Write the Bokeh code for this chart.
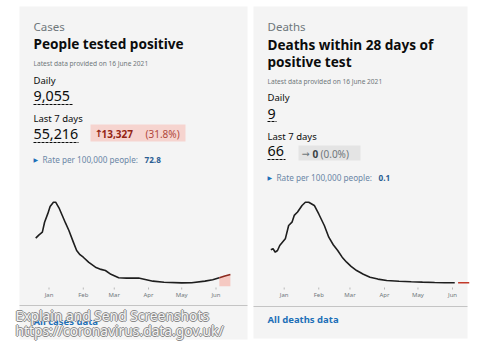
import pandas as pd
from bokeh.plotting import figure
from bokeh.models import Range1d
from bokeh.core.properties import value
from bokeh.embed import file_html
from bokeh.resources import INLINE

# ---------------- data ----------------
case_dates = ["2020-12-20", "2020-12-23", "2020-12-26", "2020-12-28", "2020-12-31",
              "2021-01-02", "2021-01-05", "2021-01-07", "2021-01-10", "2021-01-13",
              "2021-01-16", "2021-01-19", "2021-01-23", "2021-01-26", "2021-01-29",
              "2021-02-01", "2021-02-06", "2021-02-12", "2021-02-17", "2021-02-21",
              "2021-02-26", "2021-03-05", "2021-03-12", "2021-03-23", "2021-03-28",
              "2021-04-05", "2021-04-15", "2021-05-01", "2021-05-10", "2021-05-22",
              "2021-05-29", "2021-06-04", "2021-06-09", "2021-06-14"]
case_values = [34300, 36700, 38600, 45700, 52000,
               57000, 60000, 60000, 56000, 50500,
               45000, 39800, 31500, 25500, 22500,
               20700, 17000, 13600, 12000, 11200,
               8500, 6000, 5800, 5800, 5000,
               3600, 2800, 2400, 2500, 3600,
               4600, 6000, 7300, 8400]
case_recent_from = "2021-06-04"

death_dates = ["2020-12-20", "2020-12-22", "2020-12-24", "2020-12-26", "2020-12-28",
               "2021-01-02", "2021-01-05", "2021-01-08", "2021-01-10", "2021-01-13",
               "2021-01-17", "2021-01-20", "2021-01-23", "2021-01-28", "2021-02-01",
               "2021-02-06", "2021-02-10", "2021-02-14", "2021-02-18", "2021-02-22",
               "2021-02-26", "2021-03-02", "2021-03-07", "2021-03-13", "2021-03-19",
               "2021-03-26", "2021-04-03", "2021-04-14", "2021-04-25", "2021-05-05",
               "2021-05-16", "2021-05-25", "2021-06-03", "2021-06-10", "2021-06-16"]
death_values = [523, 538, 486, 512, 588,
                690, 894, 945, 1048, 1100,
                1200, 1250, 1250, 1200, 1070,
                894, 715, 600, 512, 410,
                333, 270, 206, 150, 104,
                75, 53, 42, 34, 28,
                23, 20, 18, 18, 18]
death_recent_from = "2021-06-06"

month_labels = ["Jan", "Feb", "Mar", "Apr", "May", "Jun"]
month_starts = ["2021-01-01", "2021-02-01", "2021-03-01", "2021-04-01", "2021-05-01", "2021-06-01"]

ORIGIN = pd.Timestamp("2021-01-01")


def days(ds):
    return [(pd.Timestamp(d) - ORIGIN).days for d in ds]


# ---------------- figure (pixel canvas + chart scales) ----------------
p = figure(width=481, height=356, x_range=Range1d(0, 481), y_range=Range1d(356, 0),
           output_backend="svg", toolbar_location=None, min_border=0,
           x_axis_location=None, y_axis_location=None, outline_line_color=None,
           background_fill_color="white", border_fill_color="white")
p.grid.visible = False
p.extra_x_ranges = {"cx": Range1d(-43.85, 391.05), "dx": Range1d(-254.5, 177.0)}
p.extra_y_ranges = {"cy": Range1d(-50214, 204071), "dy": Range1d(-1107.9, 4332.2)}

FONT = "Noto Sans"
SYM = "DejaVu Sans"


def txt(x, y, s, size, color, bold=False, font=FONT, align="left", xr="default", xo=0, yo=0):
    p.text(x=[x], y=[y], text=[s], text_font=value(font), text_font_size=value(f"{size}px"),
           text_font_style="bold" if bold else "normal", text_color=color,
           text_align=align, text_baseline="middle", x_range_name=xr,
           x_offset=xo, y_offset=yo)


# cards
p.quad(left=[19, 253], right=[247, 467], top=[6, 6], bottom=[339, 338],
       fill_color="#f4f4f4", line_color=None)
p.segment(x0=[19, 253], x1=[247, 467], y0=[305, 306], y1=[305, 306],
          line_color="#c4c4c4", line_width=1)

# ---------------- card 1: cases ----------------
txt(33, 26, "Cases", 11.5, "#6f777b")
txt(33, 43, "People tested positive", 13.6, "#0b0c0c", bold=True)
txt(33, 63, "Latest data provided on 16 June 2021", 6.6, "#6f777b")
txt(33, 80, "Daily", 9.5, "#0b0c0c")
txt(33, 95, "9,055", 14.3, "#0b0c0c")
txt(33, 118, "Last 7 days", 9.5, "#0b0c0c")
txt(33, 133, "55,216", 14.3, "#0b0c0c")
p.segment(x0=[33, 33], x1=[73, 78], y0=[104, 142], y1=[104, 142],
          line_color="#0b0c0c", line_width=1, line_dash="3 1")
p.quad(left=[90], right=[185], top=[124], bottom=[141], fill_color="#f6d4cf", line_color=None)
txt(94, 133, "↑", 10, "#942514", bold=True, font=SYM)
txt(101, 133, "13,327", 10, "#942514", bold=True)
txt(145, 133, "(31.8%)", 10, "#b0473a")
txt(33, 159, "▶", 6, "#1d70b8", font=SYM)
txt(42, 159, "Rate per 100,000 people:", 8.2, "#6a86a6")
txt(144, 159, "72.8", 8.2, "#2a5d92", bold=True)

# chart 1
cd = days(case_dates)
rc = days([case_recent_from])[0]
idx = [i for i, d in enumerate(cd) if d >= rc]
p.varea(x=[cd[i] for i in idx], y1=[0] * len(idx), y2=[case_values[i] for i in idx],
        fill_color="#f5c4bd", fill_alpha=0.9, x_range_name="cx", y_range_name="cy")
p.line(cd[:idx[0] + 1], case_values[:idx[0] + 1], line_color="#1e1e1e", line_width=1.6,
       x_range_name="cx", y_range_name="cy")
p.line([cd[i] for i in idx], [case_values[i] for i in idx], line_color="#8c2a1f",
       line_width=1.6, x_range_name="cx", y_range_name="cy")
mx = days(month_starts)
p.segment(x0=mx, x1=mx, y0=[287] * 6, y1=[289] * 6, line_color="#b8b8b8", line_width=1,
          x_range_name="cx")
p.text(x=mx, y=[294] * 6, text=month_labels, text_font=value(FONT), text_font_size=value("6px"),
       text_color="#6f777b", text_align="center", text_baseline="middle", x_range_name="cx")
txt(33, 321, "All cases data", 9.5, "#1d70b8", bold=True)

# ---------------- card 2: deaths ----------------
txt(267, 26, "Deaths", 11.5, "#6f777b")
txt(267, 44, "Deaths within 28 days of", 13.6, "#0b0c0c", bold=True)
txt(267, 61, "positive test", 13.6, "#0b0c0c", bold=True)
txt(267, 81, "Latest data provided on 16 June 2021", 6.6, "#6f777b")
txt(267, 97, "Daily", 9.5, "#0b0c0c")
txt(267, 113, "9", 14.3, "#0b0c0c")
txt(267, 136, "Last 7 days", 9.5, "#0b0c0c")
txt(267, 150, "66", 14.3, "#0b0c0c")
p.segment(x0=[267, 267], x1=[276, 285], y0=[121, 159], y1=[121, 159],
          line_color="#0b0c0c", line_width=1, line_dash="3 1")
p.quad(left=[298], right=[360], top=[145], bottom=[160], fill_color="#e4e4e4", line_color=None)
txt(301, 153, "→", 9.5, "#6f777b", font=SYM)
txt(312, 153, "0", 10, "#383f43", bold=True)
txt(320, 153, "(0.0%)", 10, "#6f777b")
txt(267, 177, "▶", 6, "#1d70b8", font=SYM)
txt(276, 177, "Rate per 100,000 people:", 8.2, "#6a86a6")
txt(378, 177, "0.1", 8.2, "#2a5d92", bold=True)

# chart 2
dd = days(death_dates)
rd = days([death_recent_from])[0]
j0 = next(i for i, d in enumerate(dd) if d >= rd) - 1
p.line(dd[:j0 + 1], death_values[:j0 + 1], line_color="#1e1e1e", line_width=1.6,
       x_range_name="dx", y_range_name="dy")
p.line([rd] + dd[j0 + 1:], [death_values[j0]] + death_values[j0 + 1:], line_color="#c23a2a",
       line_width=1.6, x_range_name="dx", y_range_name="dy")
p.segment(x0=mx, x1=mx, y0=[287] * 6, y1=[289] * 6, line_color="#b8b8b8", line_width=1,
          x_range_name="dx")
p.text(x=mx, y=[294] * 6, text=month_labels, text_font=value(FONT), text_font_size=value("6px"),
       text_color="#6f777b", text_align="center", text_baseline="middle", x_range_name="dx")
txt(267, 319, "All deaths data", 9.5, "#1d70b8", bold=True)

# ---------------- watermark ----------------
for line_text, yy in [("Explain and Send Screenshots", 315), ("https://coronavirus.data.gov.uk/", 330)]:
    for ox, oy in [(-1, 0), (1, 0), (0, -1), (0, 1)]:
        txt(15, yy, line_text, 13.8, "#8a8a8a", xo=ox, yo=oy)
    txt(15, yy, line_text, 13.8, "#f4f4f4")

open("out.html", "w").write(file_html(p, INLINE))
